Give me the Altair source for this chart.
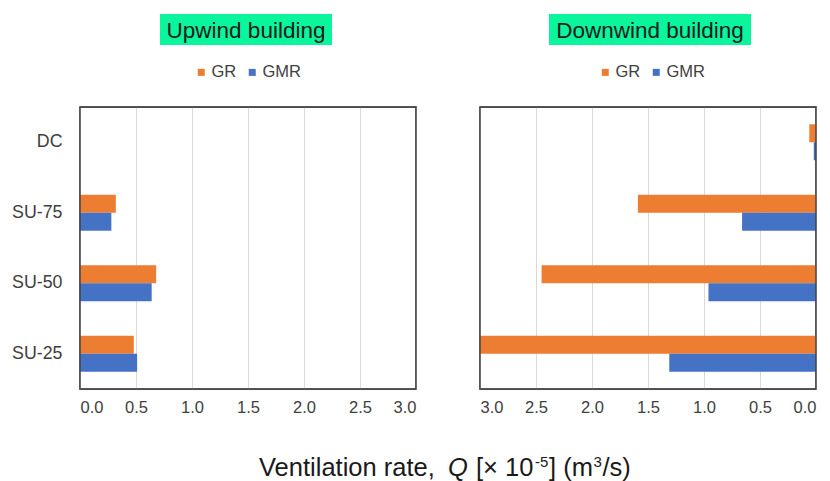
import altair as alt
import pandas as pd

categories = ["DC", "SU-75", "SU-50", "SU-25"]
series = ["GR", "GMR"]
upwind_gr = [0.0, 0.32, 0.68, 0.48]
upwind_gmr = [0.0, 0.28, 0.64, 0.51]
downwind_gr = [0.06, 1.59, 2.45, 3.0]
downwind_gmr = [0.02, 0.66, 0.96, 1.31]
x_ticks = [0.0, 0.5, 1.0, 1.5, 2.0, 2.5, 3.0]
panel_titles = ["Upwind building", "Downwind building"]
axis_title_parts = ["Ventilation rate,", "Q", "[× 10", "-5", "] (m", "3", "/s)"]
colors = ["#ED7D31", "#4472C4"]

FONT = "Arial, 'Liberation Sans', sans-serif"
W, H = 336, 282
TXT = "#404040"


def frame(gr, gmr):
    rows = []
    for c, a, b in zip(categories, gr, gmr):
        rows.append({"case": c, "series": series[0], "Q": a})
        rows.append({"case": c, "series": series[1], "Q": b})
    return pd.DataFrame(rows)


one = pd.DataFrame({"k": [0]})


def panel(df, title, reverse, show_y, legend_x, title_cx, box_x, box_x2):
    y_axis = alt.Axis(title=None, domain=False, ticks=False, labelFontSize=17.8,
                      labelPadding=18, labelColor=TXT, labelFont=FONT) if show_y else None
    bars = alt.Chart(df).mark_bar(clip=True).encode(
        x=alt.X("Q:Q",
                scale=alt.Scale(domain=[0, 3], nice=False, reverse=reverse),
                axis=alt.Axis(values=x_ticks, format=".1f", title=None, domain=False,
                              ticks=False, labelFontSize=16.5, labelColor=TXT,
                              labelPadding=10, grid=True, gridColor="#D9D9D9",
                              labelFont=FONT)),
        y=alt.Y("case:N", sort=categories,
                scale=alt.Scale(paddingInner=0.49, paddingOuter=0.245),
                axis=y_axis),
        yOffset=alt.YOffset("series:N", sort=series,
                            scale=alt.Scale(domain=series, paddingInner=0, paddingOuter=0)),
        color=alt.Color("series:N",
                        scale=alt.Scale(domain=series, range=colors),
                        legend=alt.Legend(title=None, orient="none", legendX=legend_x,
                                          legendY=-43, direction="horizontal",
                                          symbolType="square", symbolSize=49,
                                          symbolStrokeWidth=0, labelFontSize=16.5,
                                          labelFont=FONT, labelColor=TXT, labelOffset=2,
                                          columnPadding=7, padding=0)),
    )
    tdf = pd.DataFrame({"title": [title]})
    box = alt.Chart(tdf).mark_rect(color="#0AF59C").encode(
        x=alt.value(box_x), x2=alt.value(box_x2), y=alt.value(-93), y2=alt.value(-62))
    txt = alt.Chart(tdf).mark_text(font=FONT, fontSize=22.5, color="#1a1a1a",
                                   align="center", baseline="alphabetic").encode(
        x=alt.value(title_cx), y=alt.value(-69.5), text="title:N")
    border = alt.Chart(one).mark_rect(filled=False, stroke="#404040", strokeWidth=1.4).encode(
        x=alt.value(0), x2=alt.value(W), y=alt.value(0), y2=alt.value(H))
    return [box, txt, bars, border]


def seg(text, x, y, size=25.5, style="normal"):
    return alt.Chart(one).mark_text(text=text, font=FONT, fontSize=size, fontStyle=style,
                                    color="#1a1a1a", align="left",
                                    baseline="alphabetic").encode(
        x=alt.value(x), y=alt.value(y))


axis_title = [
    seg(axis_title_parts[0], 179, 369),
    seg(axis_title_parts[1], 368, 369, style="italic"),
    seg(axis_title_parts[2], 396, 369),
    seg(axis_title_parts[3], 455, 360, size=15),
    seg(axis_title_parts[4], 469, 369),
    seg(axis_title_parts[5], 513.5, 360, size=15),
    seg(axis_title_parts[6], 522.5, 369),
]

left = alt.layer(*panel(frame(upwind_gr, upwind_gmr), panel_titles[0], False, True,
                        113, 166, 80, 252), *axis_title).properties(width=W, height=H)
right = alt.layer(*panel(frame(downwind_gr, downwind_gmr), panel_titles[1], True, False,
                         117, 170, 69, 271)).properties(width=W, height=H)

chart = alt.hconcat(left, right, spacing=64, bounds="flush").resolve_scale(
    color="independent", x="independent"
).properties(
    padding={"left": 10, "top": 13, "right": 5, "bottom": 5},
    background="white",
).configure(font=FONT).configure_view(stroke="#404040", strokeWidth=1.4)

chart.save("out.html", embed_options={"renderer": "svg", "actions": False})
